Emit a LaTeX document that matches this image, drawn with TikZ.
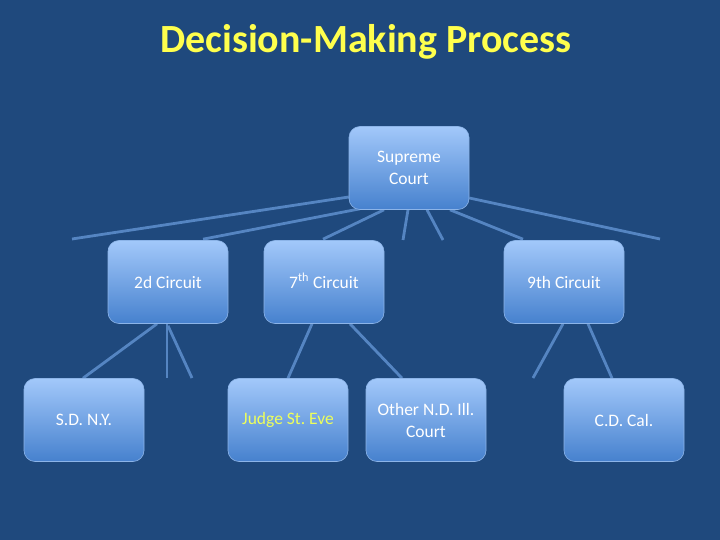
\documentclass[tikz,border=0pt]{standalone}
\usepackage{fontspec}
\setmainfont{Carlito}
\usetikzlibrary{calc}
\frenchspacing
\definecolor{bgblue}{HTML}{1F497D}
\definecolor{linkblue}{HTML}{5585C2}
\definecolor{boxtop}{HTML}{A2C8FA}
\definecolor{boxbot}{HTML}{4681CE}
\definecolor{boxedge}{HTML}{8CB4E8}
\definecolor{titleyellow}{HTML}{FFFF4D}
\definecolor{judgeyellow}{HTML}{EEFF5A}
\pgfdeclarelayer{bg}
\pgfdeclarelayer{edges}
\pgfsetlayers{bg,edges,main}
\tikzset{
  box/.style={rectangle, rounded corners=11pt, minimum width=120pt, minimum height=83pt,
    inner sep=0pt, top color=boxtop, bottom color=boxbot, draw=boxedge, line width=0.6pt,
    text=white, font=\fontsize{17.5}{22}\selectfont, align=center},
  link/.style={draw=linkblue, line width=2.8pt},
}
\begin{document}
\begin{tikzpicture}[x=1pt,y=-1pt]
\useasboundingbox (0,0) rectangle (720,540);
\begin{pgfonlayer}{bg}
\fill[bgblue] (0,0) rectangle (720,540);
\end{pgfonlayer}
\node[text=titleyellow, font=\fontsize{40}{44}\bfseries\selectfont] (title) at (366,42) {Decision-Making Process};

\node[box] (sc) at (409,168) {Supreme\\Court};
\node[box] (c2) at (168,282) {2d Circuit};
\node[box] (c7) at (324,282) {\vphantom{2d}7\smash{\textsuperscript{th}} Circuit};
\node[box] (c9) at (564,282) {9th Circuit};
\node[box] (sdny) at (84,420) {S.D. N.Y.};
\node[box, text=judgeyellow] (judge) at (288,420) {Judge St. Eve};
\node[box] (other) at (426,420) {Other N.D. Ill.\\Court};
\node[box] (cdcal) at (624,420) {C.D. Cal.};

\coordinate (f1) at (72,239);
\coordinate (f4) at (403,240);
\coordinate (f5) at (443,240);
\coordinate (f7) at (660,239);
\coordinate (g1) at (167,378);
\coordinate (g2) at (192,378);
\coordinate (g3) at (533,378);

\begin{pgfonlayer}{edges}
\draw[link] ($(sc.west)+(0,29)$) -- (f1);
\draw[link] ($(sc.south)+(-49,-1)$) -- ($(c2.north)+(35,-1)$);
\draw[link] ($(sc.south)+(-25,0)$) -- ($(c7.north)+(-1,-1)$);
\draw[link] ($(sc.south)+(-1,0)$) -- (f4);
\draw[link] ($(sc.south)+(18,0)$) -- (f5);
\draw[link] ($(sc.south)+(41,0)$) -- ($(c9.north)+(-41,-1)$);
\draw[link] ($(sc.east)+(0,30)$) -- (f7);

\draw[link] ($(c2.south)+(-11,0)$) -- ($(sdny.north)+(-1,0)$);
\draw[link] ($(c2.south)+(-1,0)$) -- (g1);
\draw[link] ($(c2.south)+(0,2)$) -- (g2);
\draw[link] ($(c7.south)+(-12,0)$) -- (judge.north);
\draw[link] ($(c7.south)+(26,0)$) -- ($(other.north)+(-24,0)$);
\draw[link] ($(c9.south)+(-1,0)$) -- (g3);
\draw[link] ($(c9.south)+(24,0)$) -- ($(cdcal.north)+(-12,0)$);
\end{pgfonlayer}
\end{tikzpicture}
\end{document}
